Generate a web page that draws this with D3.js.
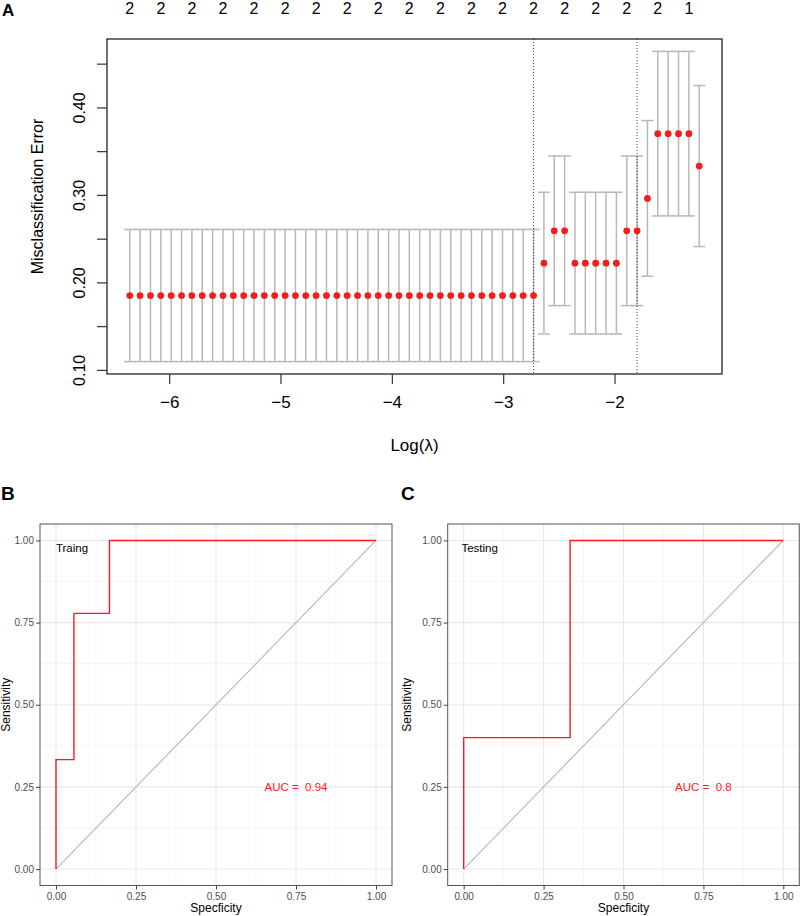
<!DOCTYPE html>
<html>
<head>
<meta charset="utf-8">
<script src="https://cdn.jsdelivr.net/npm/d3@7"></script>
<style>
  html, body { margin: 0; padding: 0; background: #fff; }
  svg { display: block; font-family: "Liberation Sans", Arial, Helvetica, sans-serif; }
  text { white-space: pre; }
</style>
</head>
<body>
<svg id="chart" width="800" height="916"></svg>
<script>
// ---------------- Panel A data (cv.glmnet) ----------------
const logLambda = [-6.354, -6.261, -6.168, -6.075, -5.982, -5.889, -5.796, -5.703, -5.610, -5.517,
  -5.424, -5.331, -5.238, -5.145, -5.052, -4.959, -4.866, -4.773, -4.680, -4.587,
  -4.494, -4.401, -4.308, -4.215, -4.122, -4.029, -3.936, -3.843, -3.750, -3.657,
  -3.564, -3.471, -3.378, -3.285, -3.192, -3.099, -3.006, -2.913, -2.820, -2.727,
  -2.634, -2.541, -2.448, -2.355, -2.262, -2.169, -2.076, -1.983, -1.890, -1.797,
  -1.704, -1.611, -1.518, -1.425, -1.332, -1.239];
const cvm = [0.185, 0.185, 0.185, 0.185, 0.185, 0.185, 0.185, 0.185, 0.185, 0.185,
  0.185, 0.185, 0.185, 0.185, 0.185, 0.185, 0.185, 0.185, 0.185, 0.185,
  0.185, 0.185, 0.185, 0.185, 0.185, 0.185, 0.185, 0.185, 0.185, 0.185,
  0.185, 0.185, 0.185, 0.185, 0.185, 0.185, 0.185, 0.185, 0.185, 0.185,
  0.222, 0.259, 0.259, 0.222, 0.222, 0.222, 0.222, 0.222, 0.259, 0.259,
  0.296, 0.370, 0.370, 0.370, 0.370, 0.333];
const cvsd = [0.0755, 0.0755, 0.0755, 0.0755, 0.0755, 0.0755, 0.0755, 0.0755, 0.0755, 0.0755,
  0.0755, 0.0755, 0.0755, 0.0755, 0.0755, 0.0755, 0.0755, 0.0755, 0.0755, 0.0755,
  0.0755, 0.0755, 0.0755, 0.0755, 0.0755, 0.0755, 0.0755, 0.0755, 0.0755, 0.0755,
  0.0755, 0.0755, 0.0755, 0.0755, 0.0755, 0.0755, 0.0755, 0.0755, 0.0755, 0.0755,
  0.081, 0.0855, 0.0855, 0.081, 0.081, 0.081, 0.081, 0.081, 0.0855, 0.0855,
  0.089, 0.094, 0.094, 0.094, 0.094, 0.092];
const nzero = [2, 2, 2, 2, 2, 2, 2, 2, 2, 2,
  2, 2, 2, 2, 2, 2, 2, 2, 2, 2,
  2, 2, 2, 2, 2, 2, 2, 2, 2, 2,
  2, 2, 2, 2, 2, 2, 2, 2, 2, 2,
  2, 2, 2, 2, 2, 2, 2, 2, 2, 2,
  2, 2, 2, 2, 1, 1];
const lambdaMinLog = -2.727;
const lambda1seLog = -1.797;
const aXTicks = [-6, -5, -4, -3, -2];
const aYTicks = [0.10, 0.15, 0.20, 0.25, 0.30, 0.35, 0.40, 0.45];
const aYLabels = ["0.10", "", "0.20", "", "0.30", "", "0.40", ""];

// ---------------- Panels B/C data (ROC) ----------------
const trainSpec = [0, 0, 0.056, 0.056, 0.167, 0.167, 1];
const trainSens = [0, 0.333, 0.333, 0.778, 0.778, 1, 1];
const testSpec = [0, 0, 0.333, 0.333, 1];
const testSens = [0, 0.4, 0.4, 1, 1];
const rocTicks = [0, 0.25, 0.5, 0.75, 1];
const rocTickLabels = ["0.00", "0.25", "0.50", "0.75", "1.00"];
const rocMinor = [0.125, 0.375, 0.625, 0.875];
const trainAUC = "0.94";
const testAUC = "0.8";

const svg = d3.select("#chart");

// ================= Panel A =================
(function () {
  const L = 107, R = 722, T = 39, B = 374;
  const xmin = d3.min(logLambda), xmax = d3.max(logLambda);
  const xs = (xmax - xmin) * 0.04;
  const up = cvm.map((m, i) => m + cvsd[i]);
  const lo = cvm.map((m, i) => m - cvsd[i]);
  const ymin = d3.min(lo), ymax = d3.max(up);
  const ys = (ymax - ymin) * 0.04;
  const x = d3.scaleLinear().domain([xmin - xs, xmax + xs]).range([L, R]);
  const y = d3.scaleLinear().domain([ymin - ys, ymax + ys]).range([B, T]);
  const g = svg.append("g");

  // panel letter
  g.append("text").attr("x", 2).attr("y", 16).attr("font-size", 17).attr("font-weight", "bold").text("A");

  // error bars
  const barw = (xmax - xmin) * 0.0105;
  const eb = g.append("g").attr("stroke", "#b8b8b8").attr("stroke-width", 1.5).attr("fill", "none");
  logLambda.forEach((v, i) => {
    eb.append("line").attr("x1", x(v)).attr("x2", x(v)).attr("y1", y(up[i])).attr("y2", y(lo[i]));
    eb.append("line").attr("x1", x(v - barw)).attr("x2", x(v + barw)).attr("y1", y(up[i])).attr("y2", y(up[i]));
    eb.append("line").attr("x1", x(v - barw)).attr("x2", x(v + barw)).attr("y1", y(lo[i])).attr("y2", y(lo[i]));
  });

  // dotted lambda lines
  [lambdaMinLog, lambda1seLog].forEach(v => {
    g.append("line").attr("x1", x(v)).attr("x2", x(v)).attr("y1", T).attr("y2", B)
      .attr("stroke", "#444").attr("stroke-width", 1).attr("stroke-dasharray", "1,2");
  });

  // points
  g.append("g").selectAll("circle").data(logLambda).join("circle")
    .attr("cx", d => x(d)).attr("cy", (d, i) => y(cvm[i])).attr("r", 3.4).attr("fill", "#f21d1d");

  // box
  g.append("rect").attr("x", L).attr("y", T).attr("width", R - L).attr("height", B - T)
    .attr("fill", "none").attr("stroke", "#111").attr("stroke-width", 1.2);

  // x axis
  const xa = g.append("g").attr("transform", `translate(0,${B})`)
    .call(d3.axisBottom(x).tickValues(aXTicks).tickSize(10).tickPadding(12)
      .tickFormat(d => (d < 0 ? "\u2212" : "") + Math.abs(d)));
  xa.select(".domain").remove();
  xa.selectAll("line").attr("stroke", "#333").attr("stroke-width", 1.2);
  xa.selectAll("text").attr("font-size", 17).attr("fill", "#000").attr("font-family", "Liberation Sans, Arial, sans-serif");

  // y axis
  const ya = g.append("g").attr("transform", `translate(${L},0)`)
    .call(d3.axisLeft(y).tickValues(aYTicks).tickSize(10).tickFormat((d, i) => aYLabels[i]));
  ya.select(".domain").remove();
  ya.selectAll("line").attr("stroke", "#333").attr("stroke-width", 1.2);
  ya.selectAll("text").attr("font-size", 16).attr("fill", "#000")
    .attr("text-anchor", "middle").attr("dy", null).attr("x", null)
    .attr("font-family", "Liberation Sans, Arial, sans-serif")
    .attr("transform", "translate(-28,0) rotate(-90)").attr("dominant-baseline", "central");

  // top nzero labels (every 3rd, as R drops overlapping ones)
  g.append("g").selectAll("text").data(logLambda.filter((d, i) => i % 3 === 0)).join("text")
    .attr("x", d => x(d)).attr("y", 14).attr("text-anchor", "middle").attr("font-size", 16)
    .text((d, i) => nzero[i * 3]);

  // axis titles
  g.append("text").attr("x", (L + R) / 2).attr("y", 451).attr("text-anchor", "middle").attr("font-size", 17)
    .text("Log(\u03bb)");
  g.append("text").attr("transform", `translate(43,${(T + B) / 2 - 10}) rotate(-90)`)
    .attr("text-anchor", "middle").attr("font-size", 16).text("Misclassification Error");
})();

// ================= Panels B & C =================
function rocPanel(opts) {
  const { left, right, letter, letterX, spec, sens, label, labelX, auc, titleX } = opts;
  const T = 524, B = 885.5;
  const x = d3.scaleLinear().domain([-0.05, 1.05]).range([left, right]);
  const y = d3.scaleLinear().domain([-0.05, 1.05]).range([B, T]);
  const g = svg.append("g");

  g.append("text").attr("x", letterX).attr("y", 500).attr("font-size", 19).attr("font-weight", "bold").text(letter);

  // grid minor
  const grid = g.append("g").attr("fill", "none");
  rocMinor.forEach(v => {
    grid.append("line").attr("x1", x(v)).attr("x2", x(v)).attr("y1", T).attr("y2", B).attr("stroke", "#f0f0f0").attr("stroke-width", 0.6);
    grid.append("line").attr("x1", left).attr("x2", right).attr("y1", y(v)).attr("y2", y(v)).attr("stroke", "#f0f0f0").attr("stroke-width", 0.6);
  });
  rocTicks.forEach(v => {
    grid.append("line").attr("x1", x(v)).attr("x2", x(v)).attr("y1", T).attr("y2", B).attr("stroke", "#e8e8e8").attr("stroke-width", 1.1);
    grid.append("line").attr("x1", left).attr("x2", right).attr("y1", y(v)).attr("y2", y(v)).attr("stroke", "#e8e8e8").attr("stroke-width", 1.1);
  });

  // diagonal
  g.append("line").attr("x1", x(0)).attr("y1", y(0)).attr("x2", x(1)).attr("y2", y(1))
    .attr("stroke", "#b5b5b5").attr("stroke-width", 1.1);

  // ROC curve
  const line = d3.line().x(d => x(d[0])).y(d => y(d[1]));
  g.append("path").datum(spec.map((s, i) => [s, sens[i]])).attr("d", line)
    .attr("fill", "none").attr("stroke", "#ff1a1a").attr("stroke-width", 1.4);

  // annotations
  g.append("text").attr("x", x(labelX)).attr("y", y(0.977)).attr("dy", "0.35em")
    .attr("text-anchor", "middle").attr("font-size", 11.5).attr("fill", "#000").text(label);
  g.append("text").attr("x", x(0.75)).attr("y", y(0.25)).attr("dy", "0.35em")
    .attr("text-anchor", "middle").attr("font-size", 11.5).attr("fill", "#ff1a1a")
    .attr("xml:space", "preserve").text("AUC =  " + auc);

  // border
  g.append("rect").attr("x", left).attr("y", T).attr("width", right - left).attr("height", B - T)
    .attr("fill", "none").attr("stroke", "#555").attr("stroke-width", 1);

  // axes
  const xa = g.append("g").attr("transform", `translate(0,${B})`)
    .call(d3.axisBottom(x).tickValues(rocTicks).tickSize(4).tickPadding(3).tickFormat((d, i) => rocTickLabels[i]));
  xa.select(".domain").remove();
  xa.selectAll("line").attr("stroke", "#444");
  xa.selectAll("text").attr("font-size", 10).attr("fill", "#4d4d4d").attr("font-family", "Liberation Sans, Arial, sans-serif");
  const ya = g.append("g").attr("transform", `translate(${left},0)`)
    .call(d3.axisLeft(y).tickValues(rocTicks).tickSize(4).tickPadding(2).tickFormat((d, i) => rocTickLabels[i]));
  ya.select(".domain").remove();
  ya.selectAll("line").attr("stroke", "#444");
  ya.selectAll("text").attr("font-size", 10).attr("fill", "#4d4d4d").attr("font-family", "Liberation Sans, Arial, sans-serif");

  g.append("text").attr("x", (left + right) / 2).attr("y", 912).attr("text-anchor", "middle").attr("font-size", 12).text("Specficity");
  g.append("text").attr("transform", `translate(${titleX},${(T + B) / 2}) rotate(-90)`)
    .attr("text-anchor", "middle").attr("font-size", 12).text("Sensitivity");
}

rocPanel({ left: 40, right: 392, letter: "B", letterX: 1, spec: trainSpec, sens: trainSens,
  label: "Traing", labelX: 0.05, auc: trainAUC, titleX: 10 });
rocPanel({ left: 447.7, right: 799.3, letter: "C", letterX: 401, spec: testSpec, sens: testSens,
  label: "Testing", labelX: 0.05, auc: testAUC, titleX: 411 });
</script>
</body>
</html>
